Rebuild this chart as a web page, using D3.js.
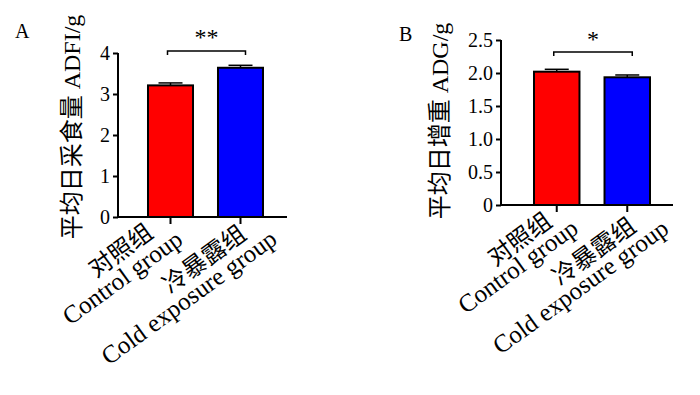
<!DOCTYPE html>
<html><head><meta charset="utf-8">
<script src="https://cdn.jsdelivr.net/npm/d3@7"></script>
<style>body{margin:0;background:#fff}svg{display:block}</style>
</head><body>
<svg id="c" width="700" height="395"></svg>
<script>
const categories = [["对照组","Control group"],["冷暴露组","Cold exposure group"]];
const adfiValues = [3.21, 3.64];
const adfiErrors = [0.06, 0.06];
const adgValues = [2.02, 1.935];
const adgErrors = [0.036, 0.035];
const adfiTicks = [0,1,2,3,4];
const adgTicks = [0,0.5,1.0,1.5,2.0,2.5];
const colors = ["#ff0000","#0000ff"];

const FONT = "'Liberation Serif','Times New Roman','Noto Sans CJK SC',serif";
const svg = d3.select("#c");
const ANG = -36;

function panel(o){
  const g = svg.append("g");
  const y = d3.scaleLinear().domain([0,o.ymax]).range([o.y0,o.y1]);
  const x = d3.scaleBand().domain(categories.map(d=>d[1])).range(o.xr).paddingInner(o.pi).paddingOuter(o.po);
  g.selectAll("rect.bar").data(o.values).enter().append("rect")
    .attr("x",(d,i)=>x(categories[i][1])).attr("width",x.bandwidth())
    .attr("y",d=>y(d)).attr("height",d=>y(0)-y(d))
    .attr("fill",(d,i)=>colors[i]).attr("stroke","#000").attr("stroke-width",2);
  o.values.forEach((v,i)=>{
    const cx = x(categories[i][1])+x.bandwidth()/2;
    g.append("line").attr("x1",cx).attr("x2",cx).attr("y1",y(v)).attr("y2",y(v+o.errs[i])).attr("stroke","#000").attr("stroke-width",1.5);
    g.append("line").attr("x1",cx-12).attr("x2",cx+12).attr("y1",y(v+o.errs[i])).attr("y2",y(v+o.errs[i])).attr("stroke","#000").attr("stroke-width",1.5);
  });
  const ya = d3.axisLeft(y).tickValues(o.ticks).tickFormat(o.fmt).tickSize(5).tickPadding(3);
  const yg = g.append("g").attr("transform",`translate(${o.xr[0]},0)`).call(ya);
  yg.select(".domain").remove();
  yg.selectAll(".tick line").attr("stroke","#000").attr("stroke-width",2);
  yg.selectAll(".tick text").attr("font-family",FONT).attr("font-size",o.tfs).attr("fill","#000");
  g.append("line").attr("x1",o.xr[0]).attr("x2",o.xr[0]).attr("y1",o.y0+1).attr("y2",o.y1).attr("stroke","#000").attr("stroke-width",2);
  g.append("line").attr("x1",o.xr[0]-1).attr("x2",o.xend).attr("y1",o.y0).attr("y2",o.y0).attr("stroke","#000").attr("stroke-width",2);
  categories.forEach((c,i)=>{
    const cx = x(c[1])+x.bandwidth()/2;
    g.append("line").attr("x1",cx).attr("x2",cx).attr("y1",o.y0).attr("y2",o.y0+7).attr("stroke","#000").attr("stroke-width",2);
    const L = o.lbl[i];
    const lg = g.append("g").attr("transform",`translate(${cx},${o.y0}) rotate(${ANG})`);
    lg.append("text").attr("font-family",FONT).attr("font-size",24).attr("text-anchor","end")
      .attr("x",L[0]).attr("y",L[1]).text(c[0]);
    lg.append("text").attr("font-family",FONT).attr("font-size",25).attr("text-anchor","end")
      .attr("x",L[2]).attr("y",L[3]).text(c[1]);
  });
  g.append("text").attr("transform",`translate(${o.lx},${o.ly}) rotate(-90)`)
    .attr("font-family",FONT).attr("font-size",24).attr("text-anchor","middle").attr("dominant-baseline","central").text(o.label);
  const c1 = x(categories[0][1])+x.bandwidth()/2, c2 = x(categories[1][1])+x.bandwidth()/2;
  const by = o.by;
  g.append("path").attr("d",`M${c1-3},${by+4}V${by}H${c2+5}V${by+4}`).attr("fill","none").attr("stroke","#000").attr("stroke-width",1.5);
  g.append("text").attr("x",(c1+c2)/2+1).attr("y",o.sy).attr("font-family",FONT).attr("font-size",24).attr("text-anchor","middle").text(o.star);
  g.append("text").attr("x",o.px).attr("y",o.py).attr("font-family",FONT).attr("font-size",20).text(o.letter);
}

panel({values:adfiValues, errs:adfiErrors, ymax:4, y0:217, y1:53, xr:[118,293], pi:0.357, po:0.4286, xend:287,
  ticks:adfiTicks, fmt:d3.format("d"), tfs:20, label:"平均日采食量 ADFI/g", lx:72, ly:127,
  by:51, sy:45, star:"**", px:15, py:38, letter:"A",
  lbl:[[-24,6,-4,29],[-6,21,16,43]]});
panel({values:adgValues, errs:adgErrors, ymax:2.5, y0:205, y1:40, xr:[501,683], pi:0.355, po:0.468, xend:673,
  ticks:adgTicks, fmt:d=>d===0?"0":d3.format(".1f")(d), tfs:20, label:"平均日增重 ADG/g", lx:440, ly:121,
  by:52, sy:47, star:"*", px:399, py:41, letter:"B",
  lbl:[[-14,14,3,35],[-6,26,19,47]]});
</script>
</body></html>
